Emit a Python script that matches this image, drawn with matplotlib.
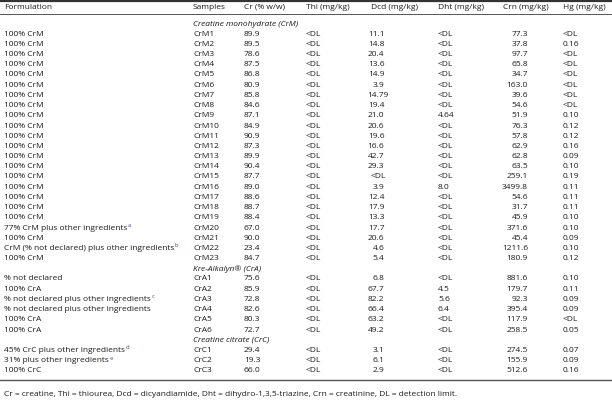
"""Creatine supplement table: Cr, Thi, Dcd, Dht, Crn and Hg per sample."""

import matplotlib

matplotlib.use("Agg")
import matplotlib.pyplot as plt

plt.rcParams.update({"font.family": "Open Sans", "font.size": 6.0})

HEADERS = ["Formulation", "Samples", "Cr (% w/w)", "Thi (mg/kg)", "Dcd (mg/kg)",
           "Dht (mg/kg)", "Crn (mg/kg)", "Hg (mg/kg)"]

# group label followed by its rows
GROUPS = ["Creatine monohydrate (CrM)", "Kre-Alkalyn\u00ae (CrA)", "Creatine citrate (CrC)"]
GROUP_SIZES = [23, 6, 3]

FORMULATION = (["100% CrM"] * 19
               + ["77% CrM plus other ingredients", "100% CrM",
                  "CrM (% not declared) plus other ingredients", "100% CrM"]
               + ["% not declared", "100% CrA", "% not declared plus other ingredients",
                  "% not declared plus other ingredients", "100% CrA", "100% CrA"]
               + ["45% CrC plus other ingredients", "31% plus other ingredients", "100% CrC"])
NOTE = ([""] * 19 + ["a", "", "b", ""]
        + ["", "", "c", "", "", ""]
        + ["d", "e", ""])
SAMPLES = ([f"CrM{i}" for i in range(1, 24)] + [f"CrA{i}" for i in range(1, 7)]
           + [f"CrC{i}" for i in range(1, 4)])
CR = ["89.9", "89.5", "78.6", "87.5", "86.8", "80.9", "85.8", "84.6", "87.1", "84.9",
      "90.9", "87.3", "89.9", "90.4", "87.7", "89.0", "88.6", "88.7", "88.4", "67.0",
      "90.0", "23.4", "84.7",
      "75.6", "85.9", "72.8", "82.6", "80.3", "72.7",
      "29.4", "19.3", "66.0"]
THI = ["<DL"] * 32
DCD = ["11.1", "14.8", "20.4", "13.6", "14.9", "3.9", "14.79", "19.4", "21.0", "20.6",
       "19.6", "16.6", "42.7", "29.3", "<DL", "3.9", "12.4", "17.9", "13.3", "17.7",
       "20.6", "4.6", "5.4",
       "6.8", "67.7", "82.2", "66.4", "63.2", "49.2",
       "3.1", "6.1", "2.9"]
DHT = ["<DL"] * 8 + ["4.64"] + ["<DL"] * 6 + ["8.0"] + ["<DL"] * 7 \
    + ["<DL", "4.5", "5.6", "6.4", "<DL", "<DL"] + ["<DL"] * 3
CRN = ["77.3", "37.8", "97.7", "65.8", "34.7", "163.0", "39.6", "54.6", "51.9", "76.3",
       "57.8", "62.9", "62.8", "63.5", "259.1", "3499.8", "54.6", "31.7", "45.9", "371.6",
       "45.4", "1211.6", "180.9",
       "881.6", "179.7", "92.3", "395.4", "117.9", "258.5",
       "274.5", "155.9", "512.6"]
HG = ["<DL", "0.16", "<DL", "<DL", "<DL", "<DL", "<DL", "<DL", "0.10", "0.12",
      "0.12", "0.16", "0.09", "0.10", "0.19", "0.11", "0.11", "0.11", "0.10", "0.10",
      "0.09", "0.10", "0.12",
      "0.10", "0.11", "0.09", "0.09", "<DL", "0.05",
      "0.07", "0.09", "0.16"]

FOOTNOTE = ("Cr = creatine, Thi = thiourea, Dcd = dicyandiamide, "
            "Dht = dihydro-1,3,5-triazine, Crn = creatinine, DL = detection limit.")

INK = "#1e1a1b"
RULE = "#555555"
LINK = "#3a4fa8"

# layout in pixels (figure is 612 x 408)
COL_X = [4, 193, 244, 306, 371, 438, 503, 563]
RIGHT_X = {4: 384.5, 6: 528.0}  # numeric columns aligned on one decimal place
DIGIT_W = 3.6
Y_HEAD = 7.5
Y0 = 24.0
DY = 10.2


def put_cell(ax, col, y, s):
    if col in RIGHT_X and s != "<DL":
        extra = len(s.split(".")[1]) - 1
        ax.text(RIGHT_X[col] + extra * DIGIT_W, y, s, ha="right", va="center", color=INK)
    else:
        ax.text(COL_X[col], y, s, ha="left", va="center", color=INK)


def main() -> None:
    fig = plt.figure(figsize=(6.12, 4.08), dpi=100)
    ax = fig.add_axes([0, 0, 1, 1])
    ax.set_xlim(0, 612)
    ax.set_ylim(408, 0)
    ax.axis("off")
    renderer = fig.canvas.get_renderer()

    ax.axhline(0.8, color="#333333", lw=1.6)
    ax.axhline(14.0, color=RULE, lw=0.7)

    for x, h in zip(COL_X, HEADERS):
        ax.text(x, Y_HEAD, h, ha="left", va="center", color=INK)

    table = list(zip(FORMULATION, NOTE, SAMPLES, CR, THI, DCD, DHT, CRN, HG))
    line = 0
    k = 0
    for label, n in zip(GROUPS, GROUP_SIZES):
        ax.text(COL_X[1], Y0 + line * DY, label, ha="left", va="center",
                color=INK, style="italic")
        line += 1
        for row in table[k:k + n]:
            y = Y0 + line * DY
            form, note = row[0], row[1]
            t = ax.text(COL_X[0], y, form, ha="left", va="center", color=INK)
            if note:
                bb = t.get_window_extent(renderer).transformed(ax.transData.inverted())
                ax.text(bb.x1 + 0.6, y - 2.5, note, ha="left", va="center",
                        color=LINK, fontsize=4.2)
            for col, s in enumerate(row[2:], start=1):
                put_cell(ax, col, y, s)
            line += 1
        k += n

    y_bottom = Y0 + (line - 1) * DY + 9.0
    ax.axhline(y_bottom, color=RULE, lw=1.0)
    ax.text(COL_X[0], y_bottom + 14.5, FOOTNOTE, ha="left", va="center", color=INK)

    fig.savefig("out.png", dpi=100)


if __name__ == "__main__":
    main()
